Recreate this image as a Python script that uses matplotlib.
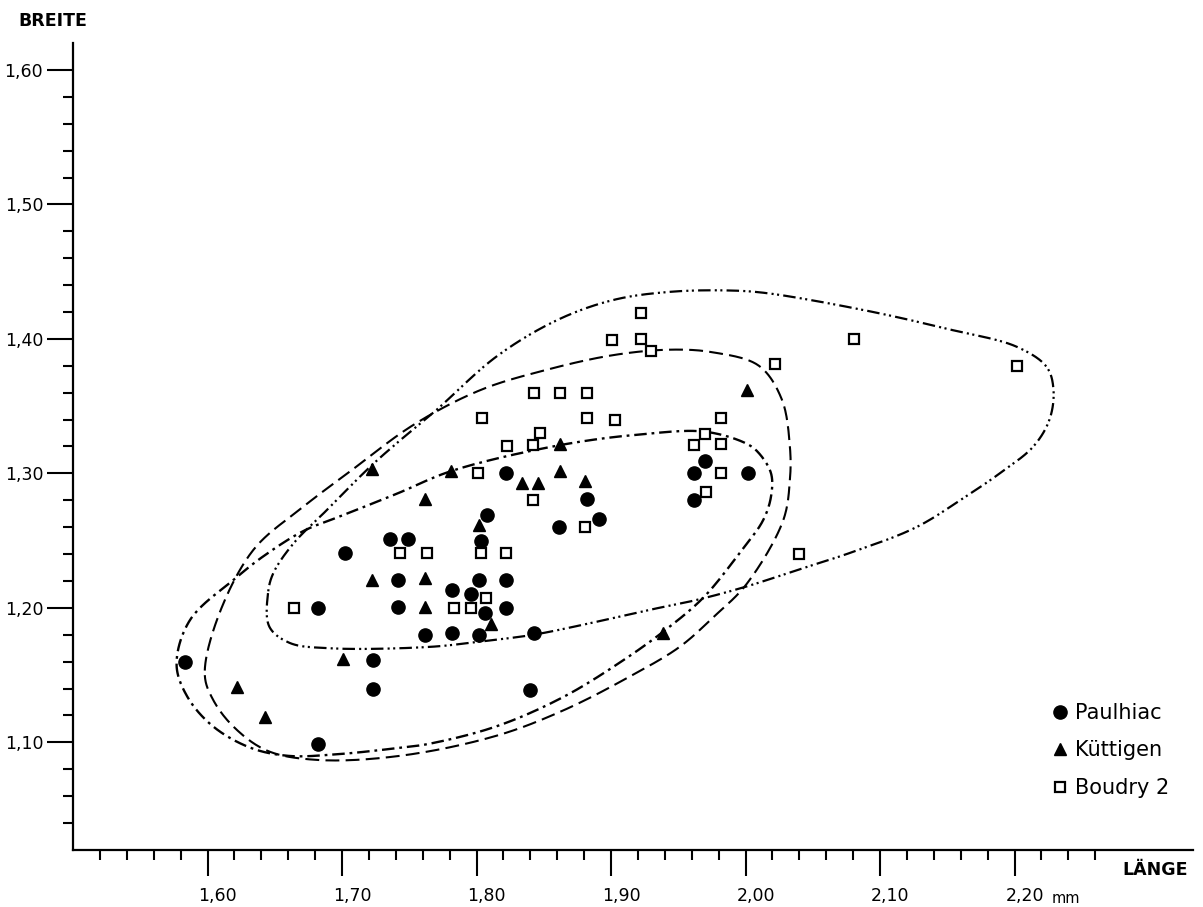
import numpy as np
import matplotlib
matplotlib.use("Agg")
import matplotlib.pyplot as plt
from matplotlib.lines import Line2D
from matplotlib.transforms import ScaledTranslation
from matplotlib.ticker import FixedLocator, FuncFormatter

plt.rcParams['font.family'] = ['DejaVu Sans']
plt.rcParams['lines.scale_dashes'] = False

# ---------------- data (Länge, Breite in mm) ----------------
paulhiac_x = [1.583, 1.682, 1.682, 1.702, 1.723, 1.723, 1.736, 1.749, 1.742, 1.742,
              1.762, 1.782, 1.782, 1.796, 1.806, 1.802, 1.802, 1.803, 1.808, 1.822,
              1.822, 1.822, 1.843, 1.840, 1.861, 1.882, 1.891, 1.962, 1.970, 1.962, 2.002]
paulhiac_y = [1.160, 1.099, 1.200, 1.241, 1.161, 1.140, 1.251, 1.251, 1.221, 1.201,
              1.180, 1.181, 1.213, 1.210, 1.196, 1.180, 1.221, 1.250, 1.269, 1.300,
              1.221, 1.200, 1.181, 1.139, 1.260, 1.281, 1.266, 1.300, 1.309, 1.280, 1.300]

kuettigen_x = [1.622, 1.643, 1.701, 1.722, 1.722, 1.762, 1.762, 1.762, 1.781, 1.802,
               1.811, 1.834, 1.846, 1.862, 1.862, 1.881, 1.939, 2.001]
kuettigen_y = [1.141, 1.119, 1.162, 1.303, 1.221, 1.281, 1.222, 1.201, 1.302, 1.262,
               1.188, 1.293, 1.293, 1.322, 1.302, 1.294, 1.181, 1.362]

boudry_x = [1.664, 1.743, 1.763, 1.783, 1.796, 1.807, 1.803, 1.801, 1.804, 1.822,
            1.823, 1.842, 1.847, 1.842, 1.843, 1.862, 1.882, 1.882, 1.881, 1.901,
            1.903, 1.922, 1.922, 1.930, 1.962, 1.970, 1.982, 1.982, 1.982, 1.971,
            2.022, 2.040, 2.081, 2.202]
boudry_y = [1.200, 1.241, 1.241, 1.200, 1.200, 1.207, 1.241, 1.300, 1.341, 1.241,
            1.320, 1.321, 1.330, 1.280, 1.360, 1.360, 1.360, 1.341, 1.260, 1.399,
            1.340, 1.419, 1.400, 1.391, 1.321, 1.329, 1.341, 1.322, 1.300, 1.286,
            1.381, 1.240, 1.400, 1.380]

# hand-drawn envelope outlines
env_paulhiac_x = [1.577, 1.585, 1.604, 1.632, 1.660, 1.694, 1.743, 1.765, 1.815, 1.865,
                  1.909, 1.941, 1.969, 1.995, 2.013, 2.019, 2.019, 2.010, 2.001, 1.970,
                  1.922, 1.862, 1.782, 1.741, 1.701, 1.671, 1.641, 1.622, 1.587]
env_paulhiac_y = [1.158, 1.134, 1.112, 1.096, 1.090, 1.091, 1.096, 1.099, 1.112, 1.134,
                  1.161, 1.184, 1.208, 1.240, 1.265, 1.283, 1.300, 1.315, 1.322, 1.331,
                  1.329, 1.321, 1.302, 1.285, 1.269, 1.257, 1.238, 1.223, 1.191]

env_kuettigen_x = [1.598, 1.604, 1.619, 1.644, 1.681, 1.743, 1.815, 1.865, 1.914, 1.951,
                   1.976, 2.001, 2.028, 2.033, 2.033, 2.027, 2.010, 1.976, 1.944, 1.902,
                   1.852, 1.803, 1.753, 1.708, 1.671, 1.634, 1.607]
env_kuettigen_y = [1.150, 1.132, 1.112, 1.094, 1.087, 1.090, 1.105, 1.124, 1.149, 1.171,
                   1.193, 1.218, 1.265, 1.295, 1.320, 1.355, 1.380, 1.390, 1.392, 1.388,
                   1.377, 1.362, 1.336, 1.303, 1.275, 1.243, 1.191]

env_boudry_x = [1.645, 1.646, 1.661, 1.691, 1.765, 1.803, 1.842, 1.877, 1.926, 1.964,
                2.001, 2.041, 2.078, 2.127, 2.164, 2.189, 2.214, 2.226, 2.229, 2.224,
                2.202, 2.152, 2.090, 2.016, 1.988, 1.944, 1.902, 1.860, 1.815, 1.770,
                1.746, 1.721, 1.689, 1.664, 1.649]
env_boudry_y = [1.211, 1.186, 1.174, 1.170, 1.171, 1.175, 1.180, 1.187, 1.198, 1.206,
                1.216, 1.229, 1.241, 1.260, 1.283, 1.300, 1.320, 1.340, 1.362, 1.379,
                1.394, 1.407, 1.421, 1.434, 1.436, 1.435, 1.429, 1.414, 1.387, 1.347,
                1.327, 1.305, 1.273, 1.248, 1.226]

x_major = [1.60, 1.70, 1.80, 1.90, 2.00, 2.10, 2.20]
y_major = [1.10, 1.20, 1.30, 1.40, 1.50, 1.60]
x_minor = [1.52, 1.54, 1.56, 1.58, 1.62, 1.64, 1.66, 1.68, 1.72, 1.74, 1.76, 1.78,
           1.82, 1.84, 1.86, 1.88, 1.92, 1.94, 1.96, 1.98, 2.02, 2.04, 2.06, 2.08,
           2.12, 2.14, 2.16, 2.18, 2.22, 2.24, 2.26]
y_minor = [1.04, 1.06, 1.08, 1.12, 1.14, 1.16, 1.18, 1.22, 1.24, 1.26, 1.28,
           1.32, 1.34, 1.36, 1.38, 1.42, 1.44, 1.46, 1.48, 1.52, 1.54, 1.56, 1.58]


def closed_curve(xs, ys, n=24, alpha=0.5):
    P = np.column_stack([xs, ys]).astype(float)
    N = len(P)
    segs = []
    for i in range(N):
        p0, p1, p2, p3 = P[i - 1], P[i], P[(i + 1) % N], P[(i + 2) % N]
        t0 = 0.0
        t1 = t0 + np.linalg.norm(p1 - p0) ** alpha
        t2 = t1 + np.linalg.norm(p2 - p1) ** alpha
        t3 = t2 + np.linalg.norm(p3 - p2) ** alpha
        t = np.linspace(t1, t2, n, endpoint=False)[:, None]
        A1 = (t1 - t) / (t1 - t0) * p0 + (t - t0) / (t1 - t0) * p1
        A2 = (t2 - t) / (t2 - t1) * p1 + (t - t1) / (t2 - t1) * p2
        A3 = (t3 - t) / (t3 - t2) * p2 + (t - t2) / (t3 - t2) * p3
        B1 = (t2 - t) / (t2 - t0) * A1 + (t - t0) / (t2 - t0) * A2
        B2 = (t3 - t) / (t3 - t1) * A2 + (t - t1) / (t3 - t1) * A3
        C = (t2 - t) / (t2 - t1) * B1 + (t - t1) / (t2 - t1) * B2
        segs.append(C)
    out = np.vstack(segs + [segs[0][:1]])
    return out[:, 0], out[:, 1]


fig = plt.figure(figsize=(12.03, 9.07), dpi=100)
ax = fig.add_axes([73 / 1203, 57 / 907, 1120 / 1203, 807 / 907])
ax.set_xlim(1.50, 1.50 + 1120 / 1345)
ax.set_ylim(1.02, 1.02 + 807 / 1345)

cx, cy = closed_curve(env_paulhiac_x, env_paulhiac_y)
ax.plot(cx, cy, color='black', lw=1.7, ls=(0, (9, 3.5, 2, 3.5)), zorder=2)
cx, cy = closed_curve(env_kuettigen_x, env_kuettigen_y)
ax.plot(cx, cy, color='black', lw=1.5, ls=(0, (10, 4.5)), zorder=2)
cx, cy = closed_curve(env_boudry_x, env_boudry_y)
ax.plot(cx, cy, color='black', lw=1.6, ls=(0, (9, 3, 1.5, 2.5, 1.5, 3)), zorder=2)

ax.plot(boudry_x, boudry_y, ls='none', marker='s', ms=6.8, mfc='white',
        mec='black', mew=1.6, zorder=3)
ax.plot(kuettigen_x, kuettigen_y, ls='none', marker='^', ms=8.5, color='black', zorder=4)
ax.plot(paulhiac_x, paulhiac_y, ls='none', marker='o', ms=9.5, color='black', zorder=5)

# axes styling
for s in ['top', 'right']:
    ax.spines[s].set_visible(False)
for s in ['left', 'bottom']:
    ax.spines[s].set_linewidth(1.6)

ax.xaxis.set_major_locator(FixedLocator(x_major))
ax.xaxis.set_minor_locator(FixedLocator(x_minor))
ax.yaxis.set_major_locator(FixedLocator(y_major))
ax.yaxis.set_minor_locator(FixedLocator(y_minor))
fmt = FuncFormatter(lambda v, p: f"{v:.2f}".replace('.', ','))
ax.xaxis.set_major_formatter(fmt)
ax.yaxis.set_major_formatter(fmt)

ax.tick_params(which='major', direction='out', length=18.5, width=1.5,
               labelsize=12.5, colors='black')
ax.tick_params(which='minor', direction='out', length=7.5, width=1.5)
ax.tick_params(axis='x', which='major', pad=8)
ax.tick_params(axis='y', which='major', pad=3)

offset = ScaledTranslation(10 / 100, 0, fig.dpi_scale_trans)
for lab in ax.get_xticklabels():
    lab.set_transform(lab.get_transform() + offset)

fig.text(1052 / 1203, 1 - 903 / 907, 'mm', fontsize=10.5, va='baseline', ha='left')
fig.text(1188 / 1203, 1 - 875 / 907, 'LÄNGE', fontsize=12.5, fontweight='bold',
         va='baseline', ha='right')
fig.text(18 / 1203, 1 - 26 / 907, 'BREITE', fontsize=12.5, fontweight='bold',
         va='baseline', ha='left')

handles = [
    Line2D([], [], ls='none', marker='o', ms=9.5, color='black', label='Paulhiac'),
    Line2D([], [], ls='none', marker='^', ms=8.5, color='black', label='Küttigen'),
    Line2D([], [], ls='none', marker='s', ms=6.8, mfc='white', mec='black', mew=1.6,
           label='Boudry 2'),
]
ax.legend(handles=handles, loc='upper left', bbox_to_anchor=(1051.7 / 1203, 1 - 703 / 907),
          bbox_transform=fig.transFigure, frameon=False, fontsize=15,
          handlelength=0.8, handletextpad=0.32, labelspacing=0.84, borderpad=0,
          borderaxespad=0)

fig.savefig('out.png', dpi=100, facecolor='white')
